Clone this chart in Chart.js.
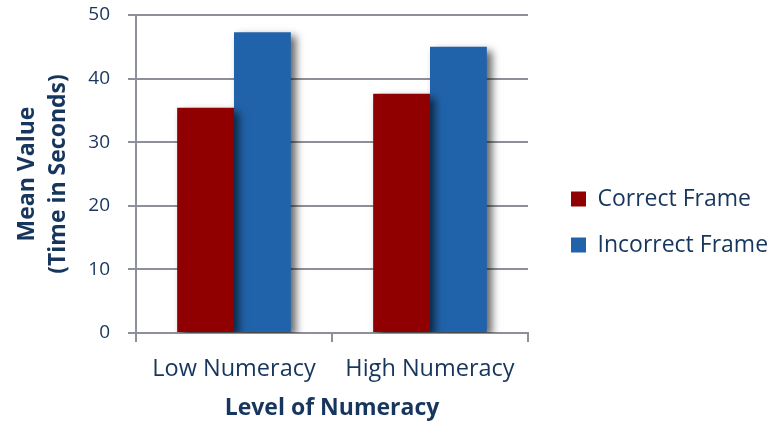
<!DOCTYPE html>
<html>
<head>
<meta charset="utf-8">
<script src="https://cdn.jsdelivr.net/npm/chart.js@4.4.1/dist/chart.umd.min.js"></script>
<style>
  html, body { margin: 0; padding: 0; background: #fff; }
  #wrap { width: 778px; height: 423px; position: relative; }
</style>
</head>
<body>
<div id="wrap"><canvas id="chart"></canvas></div>
<script>
// chart data
const categories = ['Low Numeracy', 'High Numeracy'];
const correctFrame = [35.4, 37.6];
const incorrectFrame = [47.3, 45.0];
const yTicks = [0, 10, 20, 30, 40, 50];

const textColor = '#17365d';
const gridColor = '#8e9099';
const fontFamily = "'Open Sans', Lato, sans-serif";

// soft drop shadow behind the bars
const barShadow = {
    id: 'barShadow',
    beforeDatasetsDraw(chart) {
        const ctx = chart.ctx;
        ctx.save();
        ctx.shadowColor = 'rgba(0, 0, 0, 0.6)';
        ctx.shadowBlur = 8;
        ctx.shadowOffsetX = 5;
        ctx.shadowOffsetY = 4;
    },
    afterDatasetsDraw(chart) {
        chart.ctx.restore();
    }
};

// push the legend a little away from the plot; let it run to the canvas edge
const legendNudge = {
    id: 'legendNudge',
    afterLayout(chart) {
        const lg = chart.legend;
        if (!lg) return;
        const pad = lg.options.labels.padding;
        const dx = chart.chartArea.right + 43 - (lg.left + pad);
        lg.left += dx;
        lg.right = chart.width;
        lg.width = lg.right - lg.left;
        lg.top += 3;
        lg.bottom += 3;
    }
};

new Chart(document.getElementById('chart'), {
    type: 'bar',
    data: {
        labels: categories,
        datasets: [
            {
                label: 'Correct Frame',
                data: correctFrame,
                backgroundColor: '#910000',
                categoryPercentage: 0.58,
                barPercentage: 1.0
            },
            {
                label: 'Incorrect Frame',
                data: incorrectFrame,
                backgroundColor: '#2163aa',
                categoryPercentage: 0.58,
                barPercentage: 1.0
            }
        ]
    },
    options: {
        responsive: true,
        maintainAspectRatio: false,
        animation: false,
        layout: { autoPadding: false, padding: { top: 15, right: 78, left: 12, bottom: 0 } },
        plugins: {
            legend: {
                position: 'right',
                labels: {
                    color: textColor,
                    font: { family: fontFamily, size: 23 },
                    boxWidth: 15,
                    boxHeight: 15,
                    padding: 23
                }
            },
            tooltip: { enabled: false }
        },
        scales: {
            y: {
                min: 0,
                max: 50,
                afterBuildTicks: axis => { axis.ticks = yTicks.map(v => ({ value: v })); },
                afterFit: axis => {
                    axis.width = 124;
                    axis.paddingTop = 0;
                    axis.paddingBottom = 0;
                },
                ticks: { color: textColor, font: { family: fontFamily, size: 19 }, padding: 18 },
                grid: { color: gridColor, lineWidth: 2, tickLength: 8 },
                border: { color: gridColor, width: 2 },
                title: {
                    display: true,
                    text: ['Mean Value', '(Time in Seconds)'],
                    color: textColor,
                    font: { family: fontFamily, size: 23, weight: 'bold', lineHeight: 1.35 },
                    padding: { top: 0, bottom: 0 }
                }
            },
            x: {
                afterFit: axis => { axis.height = 90; },
                ticks: { color: textColor, font: { family: fontFamily, size: 23.5 }, padding: 13, maxRotation: 0, minRotation: 0 },
                grid: { color: gridColor, lineWidth: 2, drawOnChartArea: false, tickLength: 9 },
                border: { color: gridColor, width: 2 },
                title: {
                    display: true,
                    text: 'Level of Numeracy',
                    color: textColor,
                    font: { family: fontFamily, size: 23, weight: 'bold' },
                    padding: { top: 0, bottom: 1 }
                }
            }
        }
    },
    plugins: [barShadow, legendNudge]
});
</script>
</body>
</html>
